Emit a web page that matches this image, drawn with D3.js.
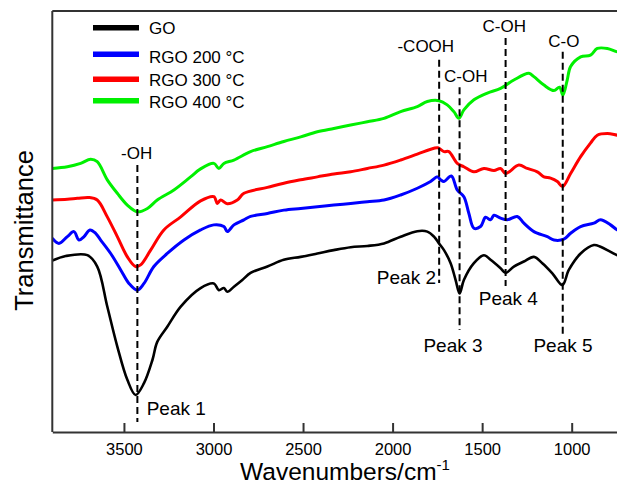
<!DOCTYPE html>
<html><head><meta charset="utf-8">
<script src="https://cdn.jsdelivr.net/npm/d3@7/dist/d3.min.js"></script>
<style>
body{margin:0;background:#fff}
svg{display:block}
text{font-family:"Liberation Sans",Arial,Helvetica,sans-serif;fill:#000}
</style>
</head><body>
<svg id="chart" width="617" height="486"></svg>
<script>
// ---- data (wavenumber cm-1, transmittance a.u.) ----
const xTickValues = [3500, 3000, 2500, 2000, 1500, 1000];
const seriesNames = ["GO", "RGO 200 °C", "RGO 300 °C", "RGO 400 °C"];
const seriesColors = ["#000000", "#0000ff", "#ff0000", "#00f000"];

const goWn = [3900,3825,3704,3649,3593,3537,3481,3435,3388,3341,3314,3258,3183,3072,2998,2970,2942,2923,2886,2839,2793,2699,2608,2513,2420,2329,2234,2141,2048,1955,1862,1806,1769,1741,1713,1676,1648,1626,1602,1546,1490,1453,1397,1369,1323,1267,1211,1164,1108,1052,1016,950,876,839,783,745,700];
const goT  = [40.7,41.8,42.0,39.3,29.8,20.3,12.4,8.8,11.6,17.1,21.4,25.0,29.8,34.2,35.3,33.7,34.2,33.3,34.5,36.1,37.8,39.3,40.9,41.6,42.4,43.2,43.9,44.2,44.8,46.4,47.7,47.6,46.4,44.8,43.2,40.1,36.1,32.9,36.1,40.1,42.0,40.9,38.9,37.8,39.3,40.5,41.6,40.1,37.7,34.9,38.5,42.4,44.4,44.0,42.8,42.0,41.5];

const rgo200Wn = [3900,3863,3816,3779,3751,3723,3690,3658,3630,3574,3518,3472,3425,3388,3333,3258,3165,3072,2998,2942,2923,2886,2830,2793,2699,2607,2513,2420,2328,2234,2141,2048,1955,1862,1788,1750,1732,1713,1672,1639,1602,1574,1546,1509,1481,1453,1434,1397,1360,1304,1267,1211,1136,1099,1044,1006,950,876,839,783,745,700];
const rgo200T  = [46.0,44.8,46.4,47.6,45.6,46.4,48.0,47.2,45.6,42.4,38.5,35.3,33.7,35.3,39.3,42.4,45.6,48.0,49.2,48.8,47.6,49.2,50.4,51.2,51.9,52.7,53.1,53.5,53.9,54.3,54.7,55.1,56.3,57.9,59.5,60.6,59.9,59.5,60.8,57.5,55.9,51.9,48.4,48.8,51.0,50.4,51.5,50.8,50.4,51.2,49.6,47.6,46.4,45.6,45.8,47.2,48.8,49.6,50.4,49.2,48.0,47.5];

const rgo300Wn = [3900,3816,3760,3695,3649,3593,3537,3481,3435,3407,3351,3277,3183,3072,2998,2979,2960,2923,2867,2830,2699,2607,2513,2420,2328,2234,2141,2048,1955,1862,1769,1747,1713,1686,1639,1602,1546,1490,1434,1397,1369,1295,1248,1192,1155,1118,1080,1051,1006,950,895,857,801,745,700];
const rgo300T  = [55.1,55.3,55.5,55.7,55.1,51.1,46.4,41.6,39.3,39.7,43.2,48.0,51.1,54.9,55.9,54.3,55.1,54.2,55.1,56.7,58.1,59.1,59.9,60.6,61.3,61.8,62.6,63.4,64.6,66.0,67.4,67.5,66.6,66.6,63.8,63.0,61.8,62.6,62.1,62.6,61.4,63.4,62.6,61.8,60.6,60.3,59.5,58.3,61.4,65.4,68.6,70.5,70.9,70.5,70.2];

const rgo400Wn = [3900,3816,3742,3686,3649,3593,3537,3481,3425,3369,3314,3221,3128,3072,2998,2970,2942,2886,2793,2699,2607,2513,2420,2328,2234,2141,2048,1955,1862,1806,1741,1695,1658,1630,1602,1546,1471,1397,1323,1239,1211,1155,1099,1068,1049,1025,1006,950,895,857,801,745,700];
const rgo400T  = [62.6,63.0,63.8,64.8,64.2,59.9,56.7,53.9,52.3,53.1,55.1,57.5,60.6,62.5,63.8,62.6,63.8,64.6,66.6,67.8,69.0,70.1,71.3,72.1,72.9,73.7,74.5,76.1,77.3,78.5,78.7,77.7,76.1,74.5,76.5,78.9,80.5,81.6,83.6,85.2,84.4,82.4,81.1,81.9,80.0,83.6,86.8,89.1,89.5,91.1,91.1,90.3,90.0];

// peak markers
const peakWn = [3425, 1740, 1626, 1369, 1050];
const groupLabels = ["-OH", "-COOH", "C-OH", "C-OH", "C-O"];
const peakLabels = ["Peak 1", "Peak 2", "Peak 3", "Peak 4", "Peak 5"];
const peakTop = [63.4, 88.4, 81.9, 93.6, 90.3];
const peakBottom = [2.4, 35.4, 24.2, 34.7, 22.6];

// ---- layout ----
const svg = d3.select("#chart");
const L = 52.3, T = 11, B = 432;
const x = d3.scaleLinear().domain([3900, 700]).range([L, L + 3200 * 0.1791]);
const y = d3.scaleLinear().domain([0, 100]).range([B, T]);

svg.append("defs").append("clipPath").attr("id", "clip")
  .append("rect").attr("x", L).attr("y", T).attr("width", 620 - L).attr("height", B - T);

const series = [
  {wn: goWn, t: goT},
  {wn: rgo200Wn, t: rgo200T},
  {wn: rgo300Wn, t: rgo300T},
  {wn: rgo400Wn, t: rgo400T}
];

const line = d3.line().x(d => x(d[0])).y(d => y(d[1])).curve(d3.curveCatmullRom.alpha(0.5));
const gLines = svg.append("g").attr("clip-path", "url(#clip)");
series.forEach((s, i) => {
  gLines.append("path")
    .datum(s.wn.map((w, k) => [w, s.t[k]]))
    .attr("fill", "none")
    .attr("stroke", seriesColors[i])
    .attr("stroke-width", i === 0 ? 2.6 : 3)
    .attr("stroke-linejoin", "round")
    .attr("d", line);
});

// dashed peak lines
peakWn.forEach((w, i) => {
  svg.append("line")
    .attr("x1", x(w)).attr("x2", x(w))
    .attr("y1", y(peakTop[i])).attr("y2", y(peakBottom[i]))
    .attr("stroke", "#000").attr("stroke-width", 2)
    .attr("stroke-dasharray", "7,4");
});

// group labels (above lines)
const groupPos = [[136.7,158.5],[425.8,51.7],[465.8,81.7],[504.2,32.3],[563.8,46.7]];
groupLabels.forEach((t, i) => {
  svg.append("text").attr("x", groupPos[i][0]).attr("y", groupPos[i][1])
    .attr("text-anchor", "middle").attr("font-size", 17).text(t);
});
// peak labels
const peakPos = [[146.7,415,"start"],[436,283.5,"end"],[453,351.7,"middle"],[508.3,305,"middle"],[563,351.7,"middle"]];
peakLabels.forEach((t, i) => {
  svg.append("text").attr("x", peakPos[i][0]).attr("y", peakPos[i][1])
    .attr("text-anchor", peakPos[i][2]).attr("font-size", 19).text(t);
});

// frame
svg.append("line").attr("x1", L).attr("x2", L).attr("y1", T).attr("y2", B)
  .attr("stroke", "#333").attr("stroke-width", 2);
svg.append("line").attr("x1", L).attr("x2", 640).attr("y1", T).attr("y2", T)
  .attr("stroke", "#333").attr("stroke-width", 2);

const xAxis = d3.axisBottom(x).tickValues(xTickValues).tickFormat(d3.format("d"))
  .tickSizeInner(-9).tickSizeOuter(0).tickPadding(11.3);
const gx = svg.append("g").attr("transform", `translate(0,${B})`).call(xAxis);
gx.select(".domain").attr("stroke", "#333").attr("stroke-width", 2);
gx.selectAll(".tick line").attr("stroke", "#333").attr("stroke-width", 2);
gx.selectAll(".tick text").attr("font-size", 16.5).attr("font-family", '"Liberation Sans",Arial,sans-serif').attr("fill", "#000");

// axis titles
const xt = svg.append("text").attr("x", 345).attr("y", 480).attr("text-anchor", "middle").attr("font-size", 24.5);
xt.append("tspan").text("Wavenumbers/cm");
xt.append("tspan").attr("font-size", 15).attr("dy", -10).text("-1");

svg.append("text").attr("transform", "translate(33,230.5) rotate(-90)")
  .attr("text-anchor", "middle").attr("font-size", 25.5).text("Transmittance");

// legend
const legRows = [27.7, 54.3, 79.3, 100.7];
const legText = [34.3, 63.3, 86, 108.3];
seriesNames.forEach((n, i) => {
  svg.append("line").attr("x1", 93).attr("x2", 139).attr("y1", legRows[i]).attr("y2", legRows[i])
    .attr("stroke", seriesColors[i]).attr("stroke-width", 5.5);
  svg.append("text").attr("x", 149).attr("y", legText[i]).attr("font-size", 17).text(n);
});
</script>
</body></html>
